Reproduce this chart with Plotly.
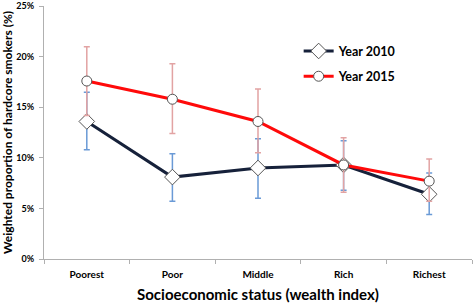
import plotly.graph_objects as go

categories = ["Poorest", "Poor", "Middle", "Rich", "Richest"]
y2010 = [13.6, 8.1, 9.0, 9.3, 6.4]
y2010_hi = [16.5, 10.4, 11.9, 11.7, 8.5]
y2010_lo = [10.8, 5.7, 6.0, 6.8, 4.4]
y2015 = [17.6, 15.8, 13.6, 9.3, 7.7]
y2015_hi = [21.0, 19.3, 16.8, 12.0, 9.9]
y2015_lo = [14.2, 12.4, 10.5, 6.6, 5.7]
yticks = [0, 5, 10, 15, 20, 25]
yticklabels = ["0%", "5%", "10%", "15%", "20%", "25%"]

font = "Lato"

def err(y, hi, lo):
    return dict(type="data", symmetric=False,
                array=[h - v for h, v in zip(hi, y)],
                arrayminus=[v - l for v, l in zip(y, lo)])

fig = go.Figure()
fig.add_trace(go.Scatter(
    x=categories, y=y2010, name="Year 2010", mode="lines+markers", legendgroup="a",
    line=dict(color="#16213a", width=3),
    marker=dict(symbol="diamond", size=12, color="white", line=dict(color="#555555", width=1)),
    error_y=dict(**err(y2010, y2010_hi, y2010_lo), color="#6a9ad6", thickness=1.5, width=3),
))
fig.add_trace(go.Scatter(
    x=categories, y=y2015, name="Year 2015", mode="lines+markers", legendgroup="b",
    line=dict(color="#ff0a0a", width=3),
    marker=dict(symbol="circle", size=10, color="white", line=dict(color="#555555", width=1)),
    error_y=dict(**err(y2015, y2015_hi, y2015_lo), color="#e2a3a3", thickness=1.5, width=3),
))

fig.update_layout(
    width=473, height=305,
    margin=dict(l=44, r=1, t=6, b=46),
    plot_bgcolor="white", paper_bgcolor="white",
    font=dict(family=font, color="black"),
    showlegend=True,
    legend=dict(x=0.595, y=0.88, xanchor="left", yanchor="top",
                font=dict(size=12.5, family=font, color="black", weight="bold"),
                bgcolor="rgba(0,0,0,0)", itemwidth=30, tracegroupgap=6),
    xaxis=dict(
        type="category", range=[-0.5, 4.5], automargin=False,
        showline=True, linecolor="#b0b0b0", linewidth=1,
        ticks="outside", tickson="boundaries", ticklen=4, tickcolor="#b0b0b0",
        tickfont=dict(size=10, family=font, weight="bold"), ticklabelstandoff=6,
        showgrid=False,
        title=dict(text="Socioeconomic status (wealth index)",
                   font=dict(size=15, family=font, weight="bold"), standoff=10),
    ),
    yaxis=dict(
        range=[0, 25.02], tickmode="array", tickvals=yticks, ticktext=yticklabels,
        automargin=False, ticklabeloverflow="allow",
        showline=True, linecolor="#b0b0b0", linewidth=1,
        ticks="outside", ticklen=4, tickcolor="#b0b0b0",
        tickfont=dict(size=9, family=font, weight="bold"), ticklabelstandoff=3,
        showgrid=False, zeroline=False,
        title=dict(text="Weighted proportion of hardcore smokers (%)",
                   font=dict(size=12, family=font, weight="bold"), standoff=3),
    ),
)

fig.write_html("out.html", config={"displayModeBar": False},
               post_script="document.body.style.margin='0';")
